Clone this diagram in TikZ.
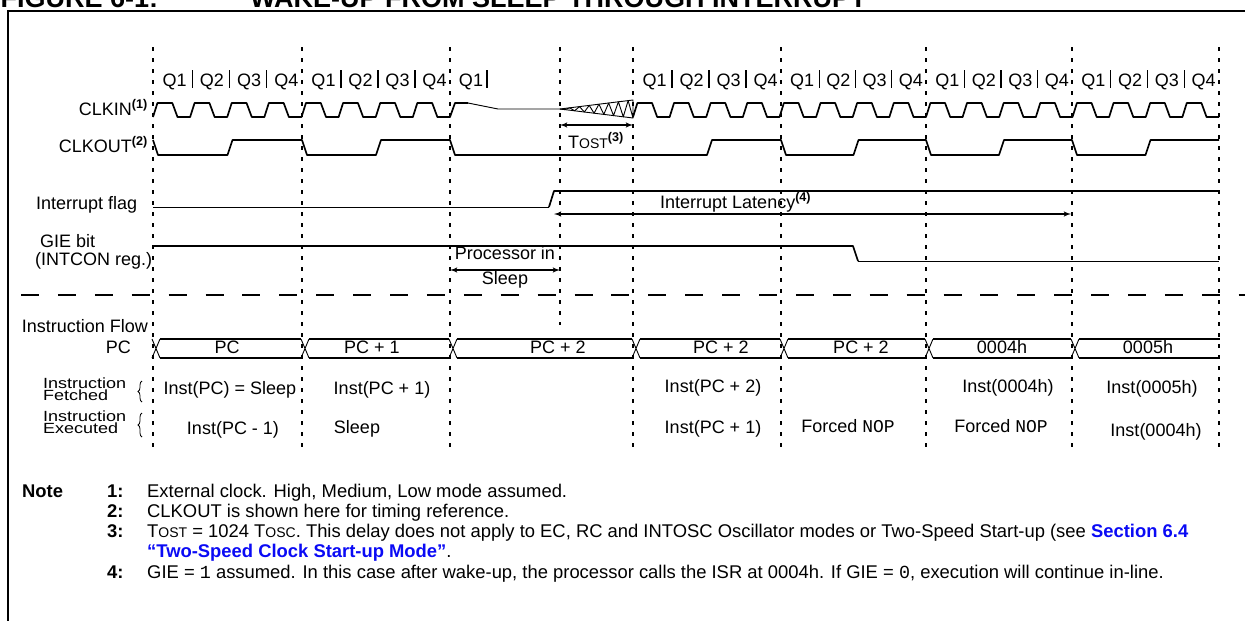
\documentclass[tikz,border=0pt]{standalone}
\usepackage{graphicx}
\usepackage{fontspec}
\setmainfont{Liberation Sans}
\setmonofont{Liberation Mono}
\usetikzlibrary{shapes,arrows,decorations.pathreplacing}
\definecolor{refblue}{RGB}{10,10,245}
\newcommand{\lowsc}[2]{{\fontsize{#1}{#1}\selectfont #2}}
\newcommand{\squash}[1]{\scalebox{1}[0.82]{#1}}
\tikzstyle{sig} = [draw, line width=1.7pt, line join=round]
\tikzstyle{thinsig} = [draw, line width=0.9pt, line join=round]
\tikzstyle{qline} = [draw, line width=1.5pt, dash pattern=on 4pt off 7pt]
\tikzstyle{sepline} = [draw, line width=1.7pt, dash pattern=on 18pt off 18.9pt]
\tikzstyle{line} = [draw, line width=1.5pt, latex'-latex']
\tikzstyle{lbl} = [inner sep=0pt, anchor=base, font=\fontsize{18}{14}\selectfont]
\tikzstyle{rowlbl} = [lbl, anchor=base west]
\tikzstyle{twoline} = [inner sep=0pt, anchor=north west, align=left, font=\fontsize{18}{12}\selectfont]
\tikzstyle{note} = [inner sep=0pt, anchor=base west, font=\fontsize{18.4}{20}\selectfont]
\tikzstyle{notenum} = [note, font=\bfseries\fontsize{18.4}{20}\selectfont]
\tikzstyle{head} = [inner sep=0pt, anchor=base west, font=\bfseries\fontsize{27}{27}\selectfont]

\begin{document}
\begin{tikzpicture}[x=1pt, y=-1pt]
  \useasboundingbox (0,0) rectangle (1245,621);

  % frame and heading
  \draw[line width=2pt] (8,640) -- (8,11) -- (1260,11);
  \node[head] (fig) at (0.5,7.5) {FIGURE 6-1:};
  \node[head] (figtitle) at (250,7.5) {WAKE-UP FROM SLEEP THROUGH INTERRUPT};

  % cycle boundaries
  \foreach \x in {153,302,450,633,781,926,1072,1219}
    \draw[qline] (\x,47) -- (\x,447);
  \draw[qline] (560,47) -- (560,325);
  \draw[sepline] (21,295) -- (1250,295);

  % Q labels
  \foreach \a/\b in {153/302,302/450,633/781,781/926,926/1072,1072/1219} {
    \foreach \k in {1,2,3,4}
      \node[lbl] (q\a-\k) at ({\a+(\k-0.5)*(\b-\a)/4+3},86) {Q\k};
    \foreach \k in {1,2,3}
      \draw[line width=1.3pt] ({\a+\k*(\b-\a)/4+2},70) -- ({\a+\k*(\b-\a)/4+2},88);
  }
  \node[lbl] (q450-1) at (471,86) {Q1};
  \draw[line width=1.3pt] (487,70) -- (487,88);

  % row names
  \node[lbl, anchor=base east] (clkin) at (148,115) {CLKIN\textsuperscript{\textbf{(1)}}};
  \node[lbl, anchor=base east] (clkout) at (148,152) {CLKOUT\textsuperscript{\textbf{(2)}}};
  \node[rowlbl] (intf) at (36,209) {Interrupt flag};
  \node[rowlbl] (gie) at (40,247) {GIE bit};
  \node[rowlbl] (intcon) at (35,265) {(INTCON reg.)};
  \node[lbl, anchor=base east] (iflow) at (148,332) {Instruction Flow};
  \node[lbl, anchor=base east] (pc) at (131,353.5) {PC};
  \node[twoline] (fetch) at (43,378) {\squash{Instruction}\\\squash{Fetched}};
  \node[twoline] (exec) at (43,410.5) {\squash{Instruction}\\\squash{Executed}};
  \draw[decorate, decoration={brace, amplitude=4pt}, line width=0.8pt] (142,402) -- (142,381);
  \draw[decorate, decoration={brace, amplitude=4pt}, line width=0.8pt] (142,437) -- (142,413);

  % CLKIN
  \draw[sig] (153,117)
    \foreach \n in {0,...,7} {
      -- ({153+(\n+0.12)*37.125},103) -- ({153+(\n+0.52)*37.125},103)
      -- ({153+(\n+0.66)*37.125},117) -- ({153+(\n+1)*37.125},117) }
    -- (455,103) -- (468,103);
  \draw[thinsig] (468,103) -- (498,109) -- (560,109);
  \draw[thinsig] (560,109) -- (633,100) -- (633,118) -- cycle;
  \draw[thinsig] (560,109)
    \foreach \i in {1,...,15} { -- ({560+\i*73/15},{109+9*\i/15*(2*mod(\i,2)-1)}) };
  \draw[sig] (633,117)
    \foreach \n in {0,...,15} {
      -- ({633+(\n+0.12)*36.625},103) -- ({633+(\n+0.52)*36.625},103)
      -- ({633+(\n+0.66)*36.625},117) -- ({633+(\n+1)*36.625},117) };

  % CLKOUT
  \draw[sig] (153,140)
    \foreach \a/\b in {153/302,302/450} {
      -- ({\a+5},155) -- ({(\a+\b)/2},155) -- ({(\a+\b)/2+5},140) -- (\b,140) }
    -- (455,155) -- (633,155)
    \foreach \a/\b in {633/781,781/926,926/1072,1072/1219} {
      -- ({\a+5},155) -- ({(\a+\b)/2},155) -- ({(\a+\b)/2+5},140) -- (\b,140) };

  % start-up timer
  \coordinate (ostL) at (560,125);
  \coordinate (ostR) at (633,125);
  \path[line] (ostL) -- (ostR);
  \node[lbl, anchor=base west] (tost) at (568,148) {T\lowsc{14}{OST}\textsuperscript{\textbf{(3)}}};

  % interrupt flag and GIE
  \draw[thinsig] (153,207) -- (549,207);
  \draw[sig] (549,207) -- (554,191) -- (1219,191);
  \draw[sig] (153,246) -- (853,246) -- (858,261);
  \draw[thinsig] (858,261) -- (1219,261);

  \coordinate (latL) at (554,214);
  \coordinate (latR) at (1071,214);
  \path[line] (latL) -- (latR);
  \node[lbl, anchor=base west] (lat) at (660,208) {Interrupt Latency\textsuperscript{\textbf{(4)}}};

  \coordinate (slpL) at (450,270);
  \coordinate (slpR) at (560,270);
  \path[line] (slpL) -- (slpR);
  \node[lbl] (sleepA) at (505,259.5) {Processor in};
  \node[lbl] (sleepB) at (505,284.5) {Sleep};

  % PC bus
  \foreach \x in {153,302,450,633,781,926,1072}
    \draw[thinsig] ({\x-1},339) -- ({\x+7},358) ({\x-1},358) -- ({\x+7},339);
  \foreach \a/\b in {153/302,302/450,450/633,633/781,781/926,926/1072}
    \draw[sig] ({\a+7},339) -- ({\b-1},339) ({\a+7},358) -- ({\b-1},358);
  \draw[sig] (1079,339) -- (1220,339) (1079,358) -- (1220,358);
  \node[lbl] (bus0) at (227,353.5) {PC};
  \node[lbl] (bus1) at (372,353.5) {PC + 1};
  \node[lbl] (bus2) at (558,353.5) {PC + 2};
  \node[lbl] (bus3) at (721,353.5) {PC + 2};
  \node[lbl] (bus4) at (861,353.5) {PC + 2};
  \node[lbl] (bus5) at (1002,353.5) {0004h};
  \node[lbl] (bus6) at (1148,353.5) {0005h};

  % fetched / executed
  \node[lbl] (f0) at (230,394) {Inst(PC) = Sleep};
  \node[lbl] (f1) at (382,394) {Inst(PC + 1)};
  \node[lbl] (f4) at (713,392) {Inst(PC + 2)};
  \node[lbl] (f6) at (1008,392) {Inst(0004h)};
  \node[lbl] (f7) at (1152,393) {Inst(0005h)};
  \node[lbl] (e0) at (233,434) {Inst(PC - 1)};
  \node[lbl] (e1) at (357,433) {Sleep};
  \node[lbl] (e4) at (713,433) {Inst(PC + 1)};
  \node[lbl] (e5) at (848,432) {Forced \texttt{NOP}};
  \node[lbl] (e6) at (1001,432) {Forced \texttt{NOP}};
  \node[lbl] (e7) at (1156,436) {Inst(0004h)};

  % notes
  \node[notenum] (note) at (22,497) {Note};
  \node[notenum] (n1) at (107,497) {1:};
  \node[note] (n1t) at (147,497) {External clock. High, Medium, Low mode assumed.};
  \node[notenum] (n2) at (107,517) {2:};
  \node[note] (n2t) at (147,517) {CLKOUT is shown here for timing reference.};
  \node[notenum] (n3) at (107,537) {3:};
  \node[note] (n3t) at (147,537) {T\lowsc{14}{OST} = 1024 T\lowsc{14}{OSC}. This delay does not apply to EC, RC and INTOSC Oscillator modes or Two-Speed Start-up (see \textcolor{refblue}{\textbf{Section 6.4}}};
  \node[note] (n3b) at (147,557) {\textcolor{refblue}{\textbf{“Two-Speed Clock Start-up Mode”}}.};
  \node[notenum] (n4) at (107,578) {4:};
  \node[note] (n4t) at (147,578) {GIE = \texttt{1} assumed. In this case after wake-up, the processor calls the ISR at 0004h. If GIE = \texttt{0}, execution will continue in-line.};
\end{tikzpicture}
\end{document}
